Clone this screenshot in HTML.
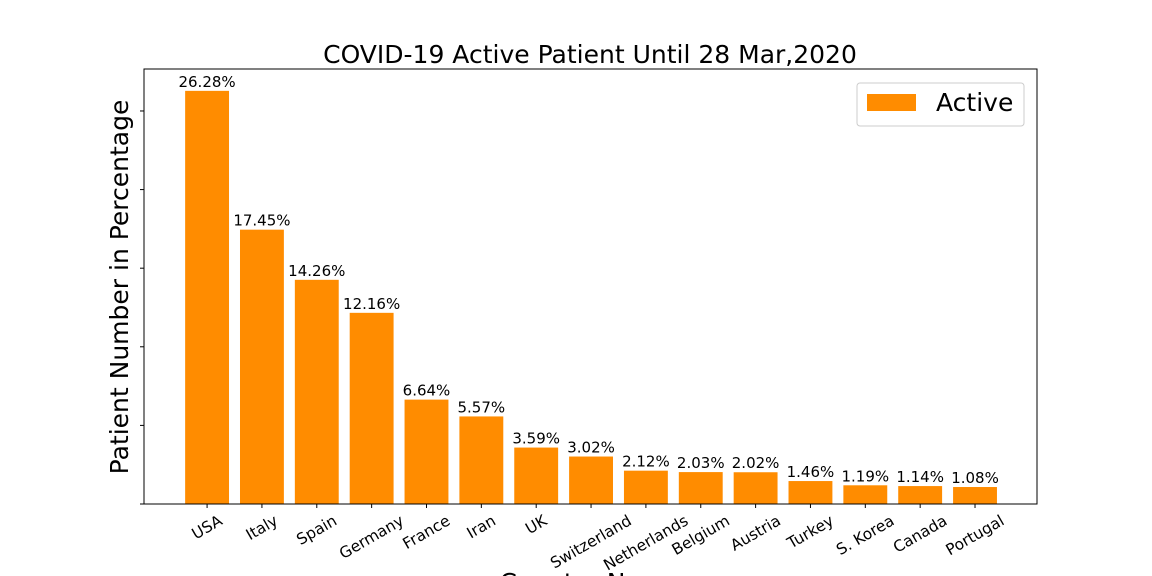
<!DOCTYPE html>
<html><head><meta charset="utf-8"><style>
body{margin:0;background:#fff}
svg{display:block;font-family:"DejaVu Sans","Liberation Sans",sans-serif}
</style></head><body>
<svg id="chart" width="1152" height="576" viewBox="0 0 1152 576"></svg>
<script>
const categories=["USA","Italy","Spain","Germany","France","Iran","UK","Switzerland","Netherlands","Belgium","Austria","Turkey","S. Korea","Canada","Portugal"];
const activeValues=[26.28,17.45,14.26,12.16,6.64,5.57,3.59,3.02,2.12,2.03,2.02,1.46,1.19,1.14,1.08];
const yTicks=[0,5,10,15,20,25];
const L=144,R=1037,T=69,B=504;
const yMax=27.67, xMin=-1.15, xMax=15.13;
const ys=v=>B-(v/yMax)*(B-T);
const xs=i=>L+(i-xMin)/(xMax-xMin)*(R-L);
const bw=0.8*(R-L)/(xMax-xMin);
const svg=document.getElementById('chart');
const NS="http://www.w3.org/2000/svg";
function mk(tag,attrs,text){const e=document.createElementNS(NS,tag);for(const k in attrs)e.setAttribute(k,attrs[k]);if(text!==undefined)e.textContent=text;svg.appendChild(e);return e;}
let t=mk('text',{x:590,y:63,'text-anchor':'middle','font-size':25,fill:'#000'},'COVID-19 Active Patient Until 28 Mar,2020');


activeValues.forEach((v,i)=>{
 const r=mk('rect',{x:xs(i)-bw/2,y:ys(v),width:bw,height:B-ys(v),fill:'#ff8c00'});
 
 
 const lb=mk('text',{x:xs(i),y:ys(v)-4,'text-anchor':'middle','font-size':15,fill:'#000'},v.toFixed(2)+'%');
 
 
 const tk=mk('line',{x1:xs(i),x2:xs(i),y1:B,y2:B+4,stroke:'#000','stroke-width':1});
 
 
 const tl=mk('text',{x:0,y:0,'text-anchor':'middle','dominant-baseline':'central','font-size':15.5,fill:'#000'},categories[i]);
 const w=tl.getComputedTextLength();
 const cy=B+8+(w*0.5+17*0.866)/2;
 tl.setAttribute('transform',`translate(${xs(i)} ${cy}) rotate(-30)`);
 
 
});
yTicks.forEach(v=>{
 const tk=mk('line',{x1:L-4,x2:L,y1:ys(v),y2:ys(v),stroke:'#000','stroke-width':1});
 
 
});
const fr=mk('rect',{x:L,y:T,width:R-L,height:B-T,fill:'none',stroke:'#000','stroke-width':1});


const yl=mk('text',{x:128,y:287,'text-anchor':'middle','font-size':25,fill:'#000',transform:'rotate(-90 128 287)'},'Patient Number in Percentage');


const xl=mk('text',{x:590,y:591,'text-anchor':'middle','font-size':25,fill:'#000'},'Country Name');


const lg=mk('rect',{x:857,y:83,width:167,height:43,rx:3,fill:'#fff',stroke:'#ccc','stroke-width':1});


const ls=mk('rect',{x:867,y:94,width:49,height:17,fill:'#ff8c00'});


const lt=mk('text',{x:936,y:111,'font-size':25,fill:'#000'},'Active');


</script>
</body></html>
